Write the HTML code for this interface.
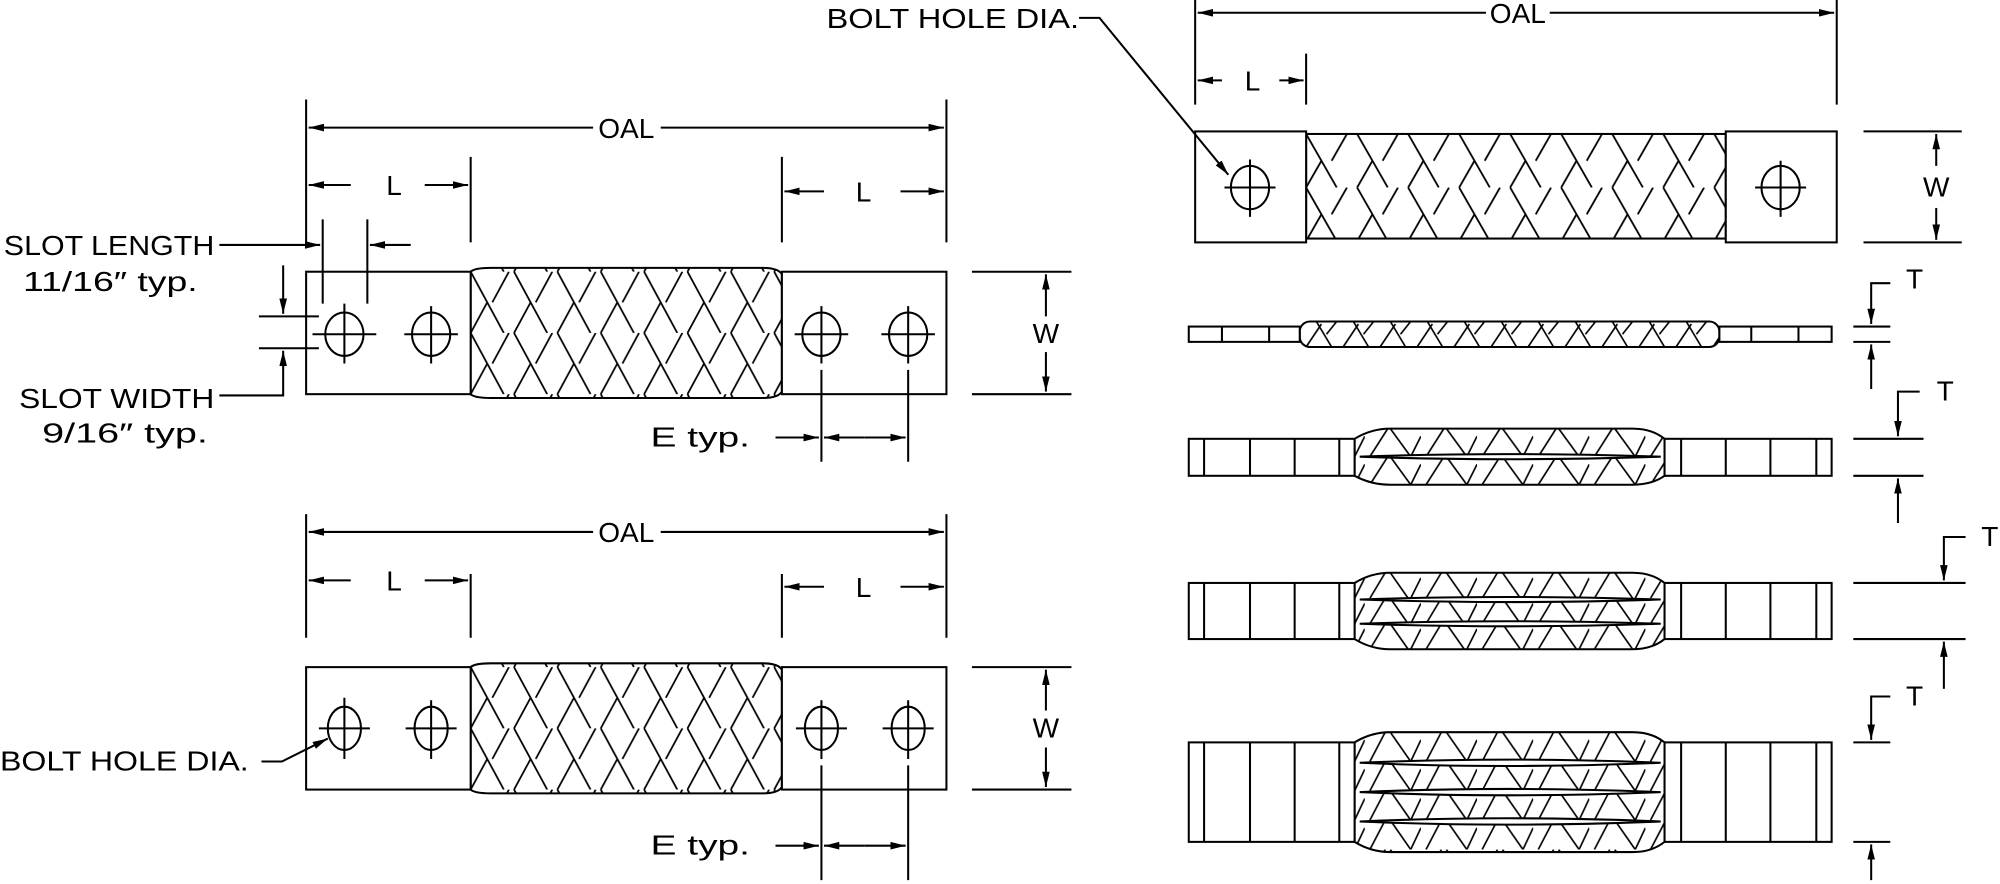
<!DOCTYPE html>
<html><head><meta charset="utf-8"><style>
html,body{margin:0;padding:0;background:#fff;}
svg{display:block;}
text{font-family:"Liberation Sans Narrow","Liberation Sans",sans-serif;fill:#000;}
</style></head><body>
<svg width="2000" height="884" viewBox="0 0 1568 693" xmlns="http://www.w3.org/2000/svg">
<defs>
<marker id="a" viewBox="0 0 12 6" refX="12" refY="3" markerWidth="12" markerHeight="6" markerUnits="userSpaceOnUse" orient="auto"><path d="M0,0 L12,3 L0,6 z" fill="#000"/></marker>
<pattern id="hb" width="34" height="48" patternUnits="userSpaceOnUse" x="369" y="213">
<path d="M0,0 L26,48 M17,24 L30,0 M-17,24 L-4,0 M0,48 L13,24 M34,48 L47,24 M34,0 L60,48" stroke="#000" stroke-width="1.4" fill="none"/>
</pattern>
<pattern id="hb2" width="34" height="48" patternUnits="userSpaceOnUse" x="369" y="523">
<path d="M0,0 L26,48 M17,24 L30,0 M-17,24 L-4,0 M0,48 L13,24 M34,48 L47,24 M34,0 L60,48" stroke="#000" stroke-width="1.4" fill="none"/>
</pattern>
<pattern id="hb3" width="40" height="42" patternUnits="userSpaceOnUse" x="1024" y="105">
<path d="M0,0 L24,42 M20,21 L32,0 M-20,21 L-8,0 M0,42 L12,21 M40,42 L52,21 M40,0 L64,42" stroke="#000" stroke-width="1.4" fill="none"/>
</pattern>
<pattern id="zz" width="29" height="20" patternUnits="userSpaceOnUse" x="1022" y="252">
<path d="M2,20 L14,2 M10,0 L22,20 M18,10 L26,0" stroke="#000" stroke-width="1.3" fill="none"/>
</pattern>
<pattern id="zz2" width="44" height="22" patternUnits="userSpaceOnUse" x="1070" y="336">
<path d="M4,22 L18,0 M20,0 L36,22 M36,22 L44,6" stroke="#000" stroke-width="1.3" fill="none"/>
</pattern>
<pattern id="zz3" width="44" height="20" patternUnits="userSpaceOnUse" x="1070" y="449">
<path d="M4,20 L16,0 M20,0 L34,20 M36,20 L44,4" stroke="#000" stroke-width="1.3" fill="none"/>
</pattern>
<pattern id="zz4" width="44" height="23" patternUnits="userSpaceOnUse" x="1070" y="574">
<path d="M4,23 L16,0 M20,0 L36,23 M36,23 L44,6" stroke="#000" stroke-width="1.3" fill="none"/>
</pattern>
</defs>
<g stroke="#000" stroke-width="1.6" fill="none">

<path d="M240,78 V190 M742,78 V190 M369,123 V190 M613,123 V190"/>
<path d="M465,100 H242" marker-end="url(#a)"/><path d="M518,100 H740" marker-end="url(#a)"/>
<path d="M275,145 H242" marker-end="url(#a)"/><path d="M333,145 H367" marker-end="url(#a)"/>
<path d="M646,150 H615" marker-end="url(#a)"/><path d="M706,150 H740" marker-end="url(#a)"/>
<path d="M369,213 Q372,210 385,210 H598 Q610,210 613,215 V307 Q610,312 598,312 H385 Q372,312 369,309 Z" fill="url(#hb)"/>
<rect x="240" y="213" width="129" height="96" fill="#fff"/>
<rect x="613" y="213" width="129" height="96" fill="#fff"/>
<g>
<ellipse cx="270" cy="262" rx="15" ry="17"/><path d="M245,262 H295 M270,238 V285"/>
<ellipse cx="338" cy="262" rx="15" ry="17"/><path d="M317,262 H359 M338,240 V285"/>
<ellipse cx="644" cy="262" rx="15" ry="17"/><path d="M623,262 H665 M644,240 V285"/>
<ellipse cx="712" cy="262" rx="15" ry="17"/><path d="M691,262 H733 M712,240 V285"/>
</g>
<path d="M253,172 V238 M288,172 V238"/>
<path d="M172,192 H251" marker-end="url(#a)"/><path d="M322,192 H290" marker-end="url(#a)"/>
<path d="M203,248 H250 M203,273 H250"/>
<path d="M222,208 V246" marker-end="url(#a)"/><path d="M172,310 H222 V275" marker-end="url(#a)"/>
<path d="M762,213 H840 M762,309 H840"/>
<path d="M820,248 V215" marker-end="url(#a)"/><path d="M820,276 V307" marker-end="url(#a)"/>
<path d="M644,290 V362 M712,290 V362"/>
<path d="M608,343 H642" marker-end="url(#a)"/><path d="M678,343 H646" marker-end="url(#a)"/><path d="M678,343 H710" marker-end="url(#a)"/>

<path d="M240,403 V500 M742,403 V500 M369,450 V500 M613,450 V500"/>
<path d="M465,417 H242" marker-end="url(#a)"/><path d="M518,417 H740" marker-end="url(#a)"/>
<path d="M275,455 H242" marker-end="url(#a)"/><path d="M333,455 H367" marker-end="url(#a)"/>
<path d="M646,460 H615" marker-end="url(#a)"/><path d="M706,460 H740" marker-end="url(#a)"/>
<path d="M369,523 Q372,520 385,520 H598 Q610,520 613,525 V617 Q610,622 598,622 H385 Q372,622 369,619 Z" fill="url(#hb2)"/>
<rect x="240" y="523" width="129" height="96" fill="#fff"/>
<rect x="613" y="523" width="129" height="96" fill="#fff"/>
<ellipse cx="270" cy="571" rx="13" ry="17"/><path d="M250,571 H290 M270,547 V595"/>
<ellipse cx="338" cy="571" rx="13" ry="17"/><path d="M318,571 H358 M338,549 V595"/>
<ellipse cx="644" cy="571" rx="13" ry="17"/><path d="M624,571 H664 M644,549 V595"/>
<ellipse cx="712" cy="571" rx="13" ry="17"/><path d="M692,571 H732 M712,549 V595"/>
<path d="M205,597 H221 L257,579" marker-end="url(#a)"/>
<path d="M762,523 H840 M762,619 H840"/>
<path d="M820,557 V525" marker-end="url(#a)"/><path d="M820,586 V617" marker-end="url(#a)"/>
<path d="M644,600 V690 M712,600 V690"/>
<path d="M608,663 H642" marker-end="url(#a)"/><path d="M678,663 H646" marker-end="url(#a)"/><path d="M678,663 H710" marker-end="url(#a)"/>

<path d="M937,0 V82 M1440,0 V82 M1024,42 V82"/>
<path d="M1165,10 H939" marker-end="url(#a)"/><path d="M1215,10 H1438" marker-end="url(#a)"/>
<path d="M958,63 H939" marker-end="url(#a)"/><path d="M1003,63 H1022" marker-end="url(#a)"/>
<rect x="1024" y="105" width="329" height="82" fill="url(#hb3)"/>
<rect x="937" y="103" width="87" height="87" fill="#fff"/>
<rect x="1353" y="103" width="87" height="87" fill="#fff"/>
<ellipse cx="980" cy="147" rx="15" ry="17"/><path d="M960,147 H1000 M980,125 V170"/>
<ellipse cx="1396" cy="147" rx="15" ry="17"/><path d="M1376,147 H1416 M1396,126 V170"/>
<path d="M846,14 H862 L963,137" marker-end="url(#a)"/>
<path d="M1461,103 H1538 M1461,190 H1538"/>
<path d="M1518,130 V105" marker-end="url(#a)"/><path d="M1518,163 V188" marker-end="url(#a)"/>

<rect x="1019" y="252" width="329" height="20" rx="8" fill="url(#zz)"/>
<rect x="932" y="256" width="87" height="12" fill="#fff"/><path d="M958,256 V268 M995,256 V268"/>
<rect x="1348" y="256" width="88" height="12" fill="#fff"/><path d="M1373,256 V268 M1410,256 V268"/>
<path d="M1453,256 H1482 M1453,268 H1482"/>
<path d="M1482,222 H1467 V254" marker-end="url(#a)"/><path d="M1467,305 V270" marker-end="url(#a)"/>

<path d="M1062,344 Q1075,336 1090,336 H1280 Q1295,336 1305,344 V373 Q1295,380 1280,380 H1090 Q1075,380 1062,373 Z" fill="url(#zz2)"/>
<path d="M1066,358 Q1180,354 1302,358 Q1180,362 1066,358" fill="#fff"/>
<rect x="932" y="344" width="130" height="29" fill="#fff"/><path d="M944,344 V373 M980,344 V373 M1015,344 V373 M1050,344 V373"/>
<rect x="1305" y="344" width="131" height="29" fill="#fff"/><path d="M1318,344 V373 M1353,344 V373 M1388,344 V373 M1424,344 V373"/>
<path d="M1453,344 H1508 M1453,373 H1508"/>
<path d="M1505,307 H1488 V342" marker-end="url(#a)"/><path d="M1488,410 V375" marker-end="url(#a)"/>

<path d="M1062,457 Q1075,449 1090,449 H1280 Q1295,449 1305,457 V501 Q1295,509 1280,509 H1090 Q1075,509 1062,501 Z" fill="url(#zz3)"/>
<path d="M1066,470 Q1180,466 1302,470 Q1180,474 1066,470 M1066,489 Q1180,485 1302,489 Q1180,493 1066,489" fill="#fff"/>
<rect x="932" y="457" width="130" height="44" fill="#fff"/><path d="M944,457 V501 M980,457 V501 M1015,457 V501 M1050,457 V501"/>
<rect x="1305" y="457" width="131" height="44" fill="#fff"/><path d="M1318,457 V501 M1353,457 V501 M1388,457 V501 M1424,457 V501"/>
<path d="M1453,457 H1541 M1453,501 H1541"/>
<path d="M1541,421 H1524 V455" marker-end="url(#a)"/><path d="M1524,540 V503" marker-end="url(#a)"/>

<path d="M1062,582 Q1075,574 1090,574 H1280 Q1295,574 1305,582 V660 Q1295,668 1280,668 H1090 Q1075,668 1062,660 Z" fill="url(#zz4)"/>
<path d="M1066,598 Q1180,593 1302,598 Q1180,603 1066,598 M1066,621 Q1180,616 1302,621 Q1180,626 1066,621 M1066,644 Q1180,639 1302,644 Q1180,649 1066,644" fill="#fff"/>
<rect x="932" y="582" width="130" height="78" fill="#fff"/><path d="M944,582 V660 M980,582 V660 M1015,582 V660 M1050,582 V660"/>
<rect x="1305" y="582" width="131" height="78" fill="#fff"/><path d="M1318,582 V660 M1353,582 V660 M1388,582 V660 M1424,582 V660"/>
<path d="M1453,582 H1482 M1453,660 H1482"/>
<path d="M1482,546 H1467 V580" marker-end="url(#a)"/><path d="M1467,690 V662" marker-end="url(#a)"/>
</g>

<g font-size="22">
<text x="469" y="108" textLength="44" lengthAdjust="spacingAndGlyphs">OAL</text>
<text x="309" y="153" text-anchor="middle">L</text>
<text x="677" y="158" text-anchor="middle">L</text>
<text x="3" y="200" textLength="165" lengthAdjust="spacingAndGlyphs">SLOT LENGTH</text>
<text x="18" y="228" textLength="137" lengthAdjust="spacingAndGlyphs">11/16″ typ.</text>
<text x="15" y="320" textLength="153" lengthAdjust="spacingAndGlyphs">SLOT WIDTH</text>
<text x="33" y="347" textLength="130" lengthAdjust="spacingAndGlyphs">9/16″ typ.</text>
<text x="820" y="269" text-anchor="middle">W</text>
<text x="510" y="350" textLength="78" lengthAdjust="spacingAndGlyphs">E typ.</text>
<text x="469" y="425" textLength="44" lengthAdjust="spacingAndGlyphs">OAL</text>
<text x="309" y="463" text-anchor="middle">L</text>
<text x="677" y="468" text-anchor="middle">L</text>
<text x="0" y="604" textLength="195" lengthAdjust="spacingAndGlyphs">BOLT HOLE DIA.</text>
<text x="820" y="578" text-anchor="middle">W</text>
<text x="510" y="670" textLength="78" lengthAdjust="spacingAndGlyphs">E typ.</text>
<text x="1168" y="18" textLength="44" lengthAdjust="spacingAndGlyphs">OAL</text>
<text x="982" y="71" text-anchor="middle">L</text>
<text x="648" y="22" textLength="198" lengthAdjust="spacingAndGlyphs">BOLT HOLE DIA.</text>
<text x="1518" y="154" text-anchor="middle">W</text>
<text x="1501" y="226" text-anchor="middle">T</text>
<text x="1525" y="314" text-anchor="middle">T</text>
<text x="1560" y="428" text-anchor="middle">T</text>
<text x="1501" y="553" text-anchor="middle">T</text>
</g>
</svg>
</body></html>
